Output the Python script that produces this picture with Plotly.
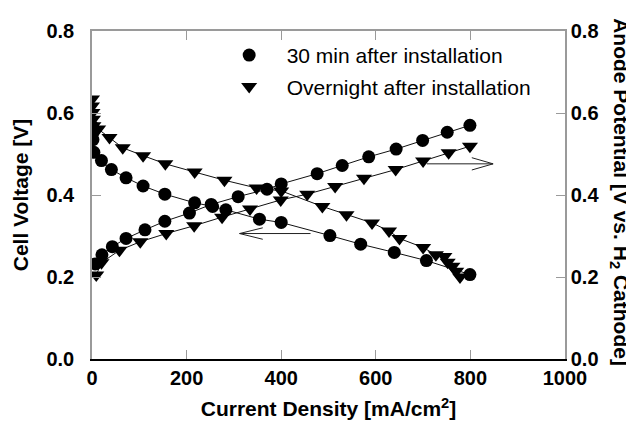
import plotly.graph_objects as go

# ---- data ----
c30_cell_x = [1, 2, 2, 4, 20, 41, 72, 108, 154, 217, 255, 283, 354, 400, 503, 568, 639, 707, 799]
c30_cell_v = [0.567, 0.553, 0.535, 0.504, 0.484, 0.462, 0.442, 0.422, 0.402, 0.381, 0.372, 0.364,
              0.341, 0.333, 0.301, 0.280, 0.260, 0.240, 0.206]
c30_anode_x = [7, 21, 43, 72, 112, 154, 206, 252, 309, 370, 400, 476, 529, 585, 643, 699, 751, 799]
c30_anode_v = [0.232, 0.254, 0.274, 0.294, 0.315, 0.336, 0.356, 0.377, 0.396, 0.414, 0.427,
               0.452, 0.472, 0.493, 0.512, 0.533, 0.553, 0.570]
on_cell_x = [0, 0, 1, 2, 3, 13, 37, 65, 108, 155, 217, 280, 348, 400, 487, 538, 592, 628, 650,
             700, 727, 745, 752, 762, 770, 778]
on_cell_v = [0.634, 0.617, 0.601, 0.585, 0.569, 0.561, 0.540, 0.515, 0.496, 0.476, 0.456, 0.436,
             0.417, 0.410, 0.372, 0.352, 0.332, 0.312, 0.294, 0.272, 0.254, 0.250, 0.236, 0.226,
             0.214, 0.200]
on_anode_x = [9, 20, 58, 102, 157, 216, 275, 334, 399, 455, 514, 575, 642, 700, 754, 799]
on_anode_v = [0.205, 0.235, 0.265, 0.286, 0.306, 0.325, 0.346, 0.366, 0.388, 0.402, 0.421,
              0.441, 0.462, 0.483, 0.503, 0.519]

series_names = ["30 min after installation", "Overnight after installation"]
x_ticks = [0, 200, 400, 600, 800, 1000]
y_ticks = [0.0, 0.2, 0.4, 0.6, 0.8]

# arrows: (tail_x, tip_x, y, head_back_x, head_half_height)
arrow_left = (462, 312, 0.306, 361, 0.014)
arrow_right = (708, 848, 0.476, 803, 0.015)

FONT = "Liberation Sans, Arial, sans-serif"
GRAY = "#9a9a9a"
PAD = "\u00a0\u00a0\u00a0"

fig = go.Figure()

for xs, ys in [(c30_cell_x, c30_cell_v), (c30_anode_x, c30_anode_v),
               (on_cell_x, on_cell_v), (on_anode_x, on_anode_v)]:
    fig.add_trace(go.Scatter(x=xs, y=ys, mode="lines",
                             line=dict(color="#111111", width=1), showlegend=False,
                             hoverinfo="skip"))

fig.add_trace(go.Scatter(x=c30_cell_x + c30_anode_x, y=c30_cell_v + c30_anode_v,
                         mode="markers", name=PAD + series_names[0], legendgroup="a",
                         marker=dict(symbol="circle", size=13, color="black")))
fig.add_trace(go.Scatter(x=on_cell_x + on_anode_x, y=on_cell_v + on_anode_v,
                         mode="markers", name=PAD + series_names[1], legendgroup="b",
                         marker=dict(symbol="triangle-down", size=14, color="black")))

# second x axis for top ticks / second y axis for right ticks
fig.add_trace(go.Scatter(x=[None], y=[None], xaxis="x2", yaxis="y2", showlegend=False))

shapes = []
for tail_x, tip_x, y, back_x, hh in [arrow_left, arrow_right]:
    shapes.append(dict(type="path", xref="x", yref="y",
                       path=f"M {tail_x} {y} L {tip_x} {y} M {back_x} {y + hh} L {tip_x} {y} L {back_x} {y - hh}",
                       line=dict(color="#222222", width=1)))

fig.update_layout(
    width=634, height=426,
    margin=dict(l=82, r=77, t=19, b=75),
    paper_bgcolor="white", plot_bgcolor="white",
    font=dict(family=FONT, color="black"),
    showlegend=True,
    legend=dict(x=0.290, y=0.988, xanchor="left", yanchor="top",
                font=dict(size=21, family=FONT), bgcolor="rgba(0,0,0,0)",
                traceorder="grouped", tracegroupgap=1, itemwidth=30),
    xaxis=dict(range=[0, 1000], tickvals=x_ticks, ticks="inside", ticklen=9,
               tickcolor=GRAY, showline=True, linecolor="black", linewidth=1.5,
               showgrid=False, zeroline=False,
               tickfont=dict(size=20, family=FONT, weight="bold"),
               title=dict(text="<b>Current Density [mA/cm<sup>2</sup>]</b>",
                          font=dict(size=21, family=FONT), standoff=14)),
    xaxis2=dict(range=[0, 1000], tickvals=x_ticks, ticks="inside", ticklen=9,
                tickcolor=GRAY, showticklabels=False, overlaying="x", side="top",
                showgrid=False, zeroline=False, showline=True, linecolor=GRAY, linewidth=1.5),
    yaxis=dict(range=[0, 0.8], tickvals=y_ticks, tickformat=".1f", ticks="inside", ticklen=9,
               tickcolor=GRAY, showline=True, linecolor=GRAY, linewidth=1.5,
               showgrid=False, zeroline=False, ticklabelstandoff=12,
               tickfont=dict(size=20, family=FONT, weight="bold"),
               title=dict(text="<b>Cell Voltage [V]</b>", font=dict(size=21, family=FONT),
                          standoff=12)),
    yaxis2=dict(range=[0, 0.8], tickvals=y_ticks, tickformat=".1f", ticks="inside", ticklen=9,
                tickcolor=GRAY, showline=True, linecolor=GRAY, linewidth=1.5,
                overlaying="y", side="right", showgrid=False, zeroline=False,
                ticklabelstandoff=0,
                tickfont=dict(size=20, family=FONT, weight="bold")),
    shapes=shapes,
    annotations=[dict(text="<b>Anode Potential [V vs. H<sub>2</sub> Cathode]</b>",
                      xref="paper", yref="paper", x=1.116, y=0.509, textangle=90,
                      showarrow=False, font=dict(size=21, family=FONT),
                      xanchor="center", yanchor="middle")],
)

fig.write_html("out.html")
